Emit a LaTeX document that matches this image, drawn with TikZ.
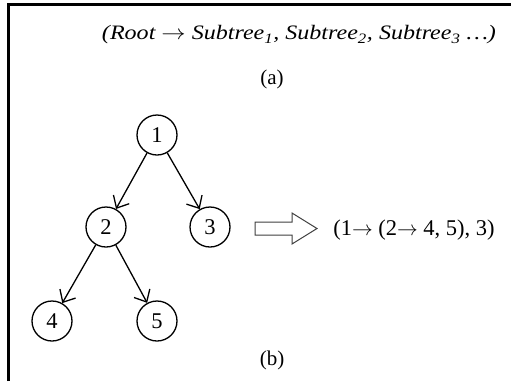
\documentclass[tikz,border=0pt]{standalone}
\usepackage{fontspec}
\usepackage{graphicx}
\setmainfont{Liberation Serif}
\usetikzlibrary{arrows.meta}
\begin{document}
\begin{tikzpicture}[x=1pt,y=-1pt,
  vtx/.style={circle,draw,line width=1.3pt,minimum size=40pt,inner sep=0pt,font=\fontsize{22.5}{26}\selectfont},
  edge/.style={line width=1.3pt,-{Straight Barb[length=10pt,width=18pt,line width=1.3pt]}},
  lbl/.style={font=\fontsize{21}{25}\selectfont,inner sep=0pt}]
\useasboundingbox (0,0) rectangle (511,381);
\fill[white] (0,0) rectangle (511,381);
% borders
\draw[line width=3pt] (8.5,381) -- (8.5,4.5) -- (511,4.5);
% part (a)
\node[lbl] (expr) at (299,35) {\resizebox{394pt}{\height}{\fontsize{20.5}{24}\selectfont\itshape (Root \(\rightarrow\) Subtree\textsubscript{1}, Subtree\textsubscript{2}, Subtree\textsubscript{3} \ldots)}};
\node[lbl] (capa) at (272,79) {(a)};
% tree
\node[vtx] (n1) at (157,135) {1};
\node[vtx] (n2) at (106,227) {2};
\node[vtx] (n3) at (210,227) {3};
\node[vtx] (n4) at (52,321) {4};
\node[vtx] (n5) at (157,321) {5};
\draw[edge] (n1) -- (n2);
\draw[edge] (n1) -- (n3);
\draw[edge] (n2) -- (n4);
\draw[edge] (n2) -- (n5);
% hollow arrow
\draw[line width=1pt,draw=black!75,line join=miter]
  (255,222) -- (292,222) -- (292,213) -- (317,228.5) -- (292,244) -- (292,235) -- (255,235) -- cycle;
\node[lbl,font=\fontsize{22.5}{26}\selectfont] (res) at (414,230) {(1\(\rightarrow\) (2\(\rightarrow\) 4, 5), 3)};
\node[lbl] (capb) at (272,360) {(b)};
\end{tikzpicture}
\end{document}
